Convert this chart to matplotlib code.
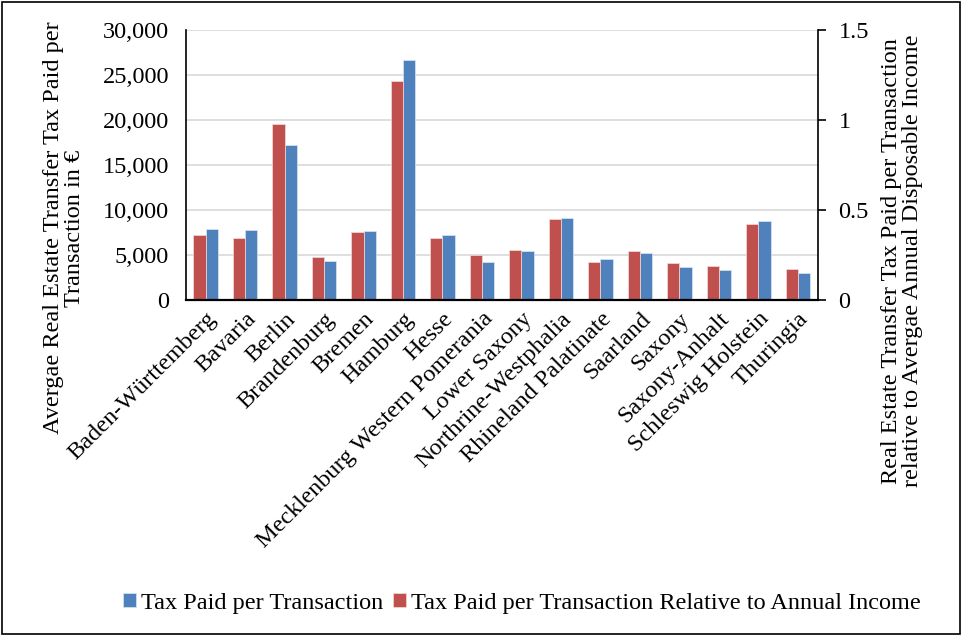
import matplotlib.pyplot as plt
import numpy as np
from matplotlib.patches import Rectangle

plt.rcParams['font.family'] = ['Liberation Serif', 'DejaVu Serif']

# Data
states = ['Baden-Württemberg', 'Bavaria', 'Berlin', 'Brandenburg', 'Bremen',
          'Hamburg', 'Hesse', 'Mecklenburg Western Pomerania', 'Lower Saxony',
          'Northrine-Westphalia', 'Rhineland Palatinate', 'Saarland', 'Saxony',
          'Saxony-Anhalt', 'Schleswig Holstein', 'Thuringia']
tax_paid = [7900, 7800, 17200, 4350, 7620, 26700, 7250, 4270, 5470,
            9150, 4570, 5240, 3680, 3350, 8810, 2980]
tax_relative = [0.361, 0.344, 0.98, 0.241, 0.379, 1.216, 0.344, 0.251, 0.279,
                0.45, 0.212, 0.273, 0.206, 0.191, 0.422, 0.171]

left_ticks = [0, 5000, 10000, 15000, 20000, 25000, 30000]
right_ticks = [0, 0.5, 1, 1.5]

blue = '#4F81BD'
red = '#C0504D'
fs = 17.5

fig = plt.figure(figsize=(9.63, 6.37), dpi=100)
ax = fig.add_axes([0.193, 0.529, 0.656, 0.424])
ax2 = ax.twinx()

x = np.arange(len(states))
w = 0.31

b1 = ax.bar(x + w / 2, tax_paid, width=w, color=blue, edgecolor='#dce6f2',
            linewidth=0.5, zorder=3)
b2 = ax2.bar(x - w / 2, tax_relative, width=w, color=red, edgecolor='#f2dcdb',
             linewidth=0.5, zorder=2)

ax.set_ylim(0, 30000)
ax2.set_ylim(0, 1.5)
ax.set_xlim(-0.5, len(states) - 0.5)
ax.set_yticks(left_ticks)
ax.set_yticklabels([f'{v:,}' for v in left_ticks], fontsize=fs)
ax2.set_yticks(right_ticks)
ax2.set_yticklabels(['0', '0.5', '1', '1.5'], fontsize=fs)
ax.yaxis.grid(True, color='#d9d9d9', linewidth=1.2, zorder=0)
ax.set_axisbelow(True)

ax.set_xticks(x)
ax.set_xticklabels(states, rotation=45, ha='right', rotation_mode='anchor',
                   fontsize=fs)
ax.tick_params(axis='x', length=0, pad=6)
ax.tick_params(axis='y', length=0, pad=12)
ax2.tick_params(axis='y', length=6, width=1.2, direction='out', pad=9)

for a in (ax, ax2):
    a.spines['top'].set_visible(False)
ax.spines['right'].set_visible(False)
ax2.spines['left'].set_visible(False)
ax.spines['left'].set_linewidth(1.2)
ax.spines['bottom'].set_visible(False)
ax2.spines['bottom'].set_linewidth(1.6)
ax2.spines['bottom'].set_zorder(5)
ax2.spines['right'].set_linewidth(1.2)

fig.text(0.066, 0.642, 'Avergae Real Estate Transfer Tax Paid per\nTransaction in €',
         rotation=90, ha='center', va='center', fontsize=fs, linespacing=1.0)
fig.text(0.937, 0.59, 'Real Estate Transfer Tax Paid per Transaction\n'
         'relative to Avergae Annual Disposable Income',
         rotation=90, ha='center', va='center', fontsize=fs, linespacing=1.0)

fig.legend([b1, b2], ['Tax Paid per Transaction',
                      'Tax Paid per Transaction Relative to Annual Income'],
           loc='center', bbox_to_anchor=(0.542, 0.053), ncol=2, frameon=False,
           fontsize=fs, handlelength=0.55, handleheight=0.55, handletextpad=0.2,
           columnspacing=0.4)

fig.patches.append(Rectangle((0.002, 0.004), 0.995, 0.993, transform=fig.transFigure,
                             fill=False, edgecolor='black', linewidth=1.2))

fig.savefig('out.png', dpi=100)
